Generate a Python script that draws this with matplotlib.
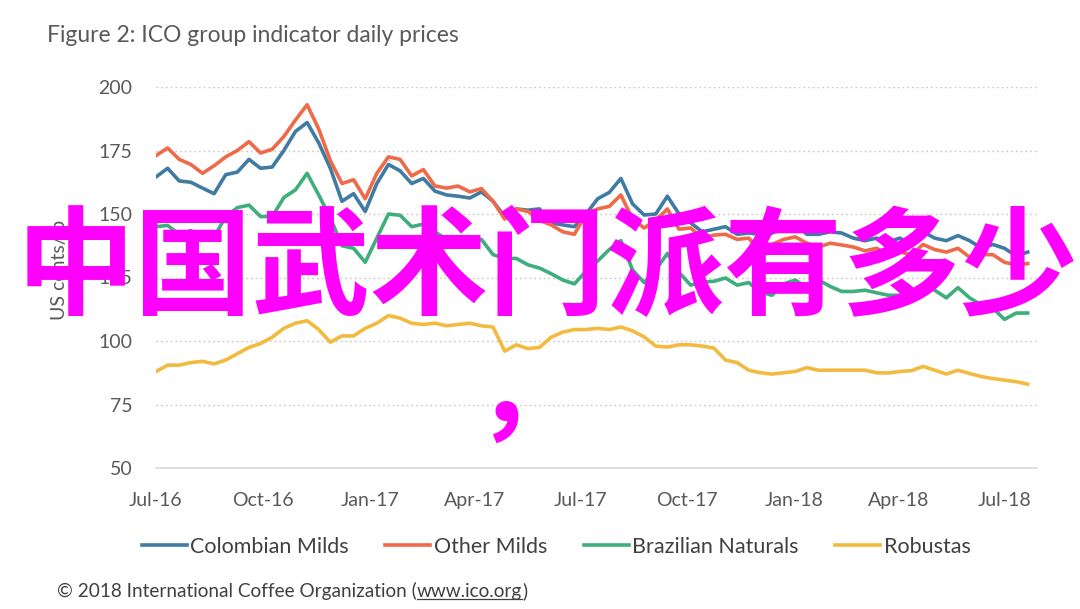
import numpy as np
import pandas as pd
import matplotlib
matplotlib.use("Agg")
import matplotlib.pyplot as plt
from matplotlib.lines import Line2D

# ICO group indicator prices, US cents/lb, every 10 days
dates = pd.date_range("2016-07-01", periods=76, freq="10D")

colombian_milds = [164.6, 168, 163, 162.5, 160.2, 158, 165.5, 166.5, 171.5, 168,
                   168.5, 175, 182.5, 186, 178, 168, 155, 158, 151, 162,
                   169.5, 167, 162, 164, 159, 157.5, 157, 156.3, 158.7, 155,
                   149, 152, 151.5, 152, 146.5, 145.7, 145, 150, 156, 158.5,
                   164, 154, 149.6, 150, 157, 150, 146.5, 143, 144, 145,
                   142, 142.5, 142, 142.5, 144.5, 146, 142, 142, 143, 142.5,
                   140.5, 139.5, 140.5, 139, 140.5, 138, 143, 140.5, 139.5, 141.5,
                   139.5, 136.6, 138, 136.5, 133.5, 135]
other_milds = [173, 176, 171.5, 169.5, 166, 169, 172.5, 175, 178.5, 174,
               175.5, 180.5, 187, 193, 183.5, 171, 162, 163.5, 156, 166,
               172.5, 171.5, 165, 167.5, 161, 160.2, 161, 158.7, 160, 155,
               148, 152, 151, 147.5, 145.7, 143, 142, 150, 152, 153,
               157.5, 148, 144.5, 147.5, 152, 144, 144.5, 140.6, 141.7, 142,
               140, 140.5, 135, 138, 140, 141, 138.5, 137, 138.5, 137.8,
               137, 135.5, 136.5, 134, 135, 134, 138, 136, 135, 136.5,
               133, 134, 134, 131, 130, 130.5]
brazilian_naturals = [145, 145.5, 142, 143.5, 140, 141, 149, 152.5, 153.5, 149,
                      149, 156.5, 159.5, 166, 157.5, 148.5, 137.5, 136.5, 131, 140.5,
                      150, 149.5, 145, 146, 143, 140, 137.5, 138, 140, 134,
                      132.5, 132.5, 130, 128.7, 126.5, 124, 122.5, 127.5, 131.5, 136,
                      139.5, 128, 123, 128, 134.5, 127, 122, 123.2, 123.5, 124.8,
                      122, 123, 119.3, 118, 122.5, 124, 121, 124, 121.5, 119.5,
                      119.5, 120, 119, 118, 118, 116.9, 122, 120, 117, 121,
                      117, 114.2, 113, 108.5, 111, 111]
robustas = [88, 90.5, 90.5, 91.5, 92, 91, 92.5, 95, 97.5, 99,
            101.5, 105, 107, 108, 104.5, 99.5, 102, 102, 105, 107,
            110, 109, 107, 106.5, 107, 106, 106.5, 107, 106, 105.5,
            96, 98.5, 97, 97.5, 101.5, 103.5, 104.5, 104.5, 105, 104.5,
            105.5, 104, 101.6, 98, 97.6, 98.5, 98.5, 98, 97.2, 92.5,
            91.5, 88.5, 87.5, 87, 87.5, 88, 89.5, 88.5, 88.5, 88.5,
            88.5, 88.5, 87.5, 87.4, 88, 88.3, 90, 88.5, 87, 88.5,
            87.2, 86, 85.2, 84.6, 84, 83]

series_names = ["Colombian Milds", "Other Milds", "Brazilian Naturals", "Robustas"]
series_colors = ["#3f7ba2", "#ee6a48", "#3eae7c", "#f2bb3f"]

tick_dates = pd.to_datetime(["2016-07-01", "2016-10-01", "2017-01-01", "2017-04-01",
                             "2017-07-01", "2017-10-01", "2018-01-01", "2018-04-01",
                             "2018-07-01"])
tick_labels = ["Jul-16", "Oct-16", "Jan-17", "Apr-17", "Jul-17",
               "Oct-17", "Jan-18", "Apr-18", "Jul-18"]
y_ticks = [50, 75, 100, 125, 150, 175, 200]

plt.rcParams["font.family"] = ["Lato", "DejaVu Sans"]
W, H = 1080, 609
fig = plt.figure(figsize=(W / 100, H / 100), dpi=100)
ax = fig.add_axes([156 / W, 1 - 468 / H, 881 / W, 381 / H])

for vals, name, col in zip([colombian_milds, other_milds, brazilian_naturals, robustas],
                           series_names, series_colors):
    ax.plot(dates, vals, color=col, lw=2.6, label=name, solid_joinstyle="round")

ax.set_xlim(pd.Timestamp("2016-07-01"), pd.Timestamp("2018-07-29"))
ax.set_ylim(50, 200)
ax.set_yticks(y_ticks)
ax.set_xticks(tick_dates)
ax.set_xticklabels(tick_labels)
for y in y_ticks[1:]:
    ax.axhline(y, color="#c8c8c8", lw=1.0, ls=(0, (1.2, 2.2)), zorder=0)
for s in ["top", "right", "left"]:
    ax.spines[s].set_visible(False)
ax.spines["bottom"].set_color("#d9d9d9")
ax.spines["bottom"].set_linewidth(1.2)
ax.tick_params(axis="both", length=0, labelsize=14, labelcolor="#595959")
ax.tick_params(axis="y", pad=17)
ax.tick_params(axis="x", pad=17)

fig.text(47 / W, 1 - 36 / H, "Figure 2: ICO group indicator daily prices",
         fontsize=16.5, color="#595959", va="center", ha="left")
fig.text(60 / W, 1 - 270 / H, "US cents/lb", rotation=90, fontsize=14,
         color="#595959", va="center", ha="center")

fig.legend(loc="center", bbox_to_anchor=(556 / W, 1 - 547 / H), ncol=4,
           frameon=False, fontsize=15.5, handlelength=2.1, handletextpad=0.15,
           columnspacing=1.7, labelcolor="#404040")

# footer with underlined link
fig.canvas.draw()
r = fig.canvas.get_renderer()
fy = 1 - 591 / H
t1 = fig.text(57 / W, fy, "\u00a9 2018 International Coffee Organization (",
              fontsize=13.7, color="#404040", va="center")
bb1 = t1.get_window_extent(r)
t2 = fig.text(bb1.x1 / W, fy, "www.ico.org", fontsize=13.7, color="#404040", va="center")
bb2 = t2.get_window_extent(r)
fig.text(bb2.x1 / W, fy, ")", fontsize=13.7, color="#404040", va="center")
fig.add_artist(Line2D([bb2.x0 / W, bb2.x1 / W], [(bb2.y0 + 1) / H] * 2,
                      transform=fig.transFigure, color="#404040", lw=0.9))

# overlay text
fig.text(548 / W, 1 - 306 / H, "中国武术门派有多少", family=["Noto Sans CJK SC"],
         fontsize=85, fontweight="bold", color="#ff00ff", ha="center",
         va="baseline", zorder=10)
fig.text(474 / W, 1 - 428 / H, "，", family=["Noto Sans CJK SC"],
         fontsize=80, fontweight="bold", color="#ff00ff", ha="left",
         va="baseline", zorder=10)

fig.savefig("out.png", dpi=100)
